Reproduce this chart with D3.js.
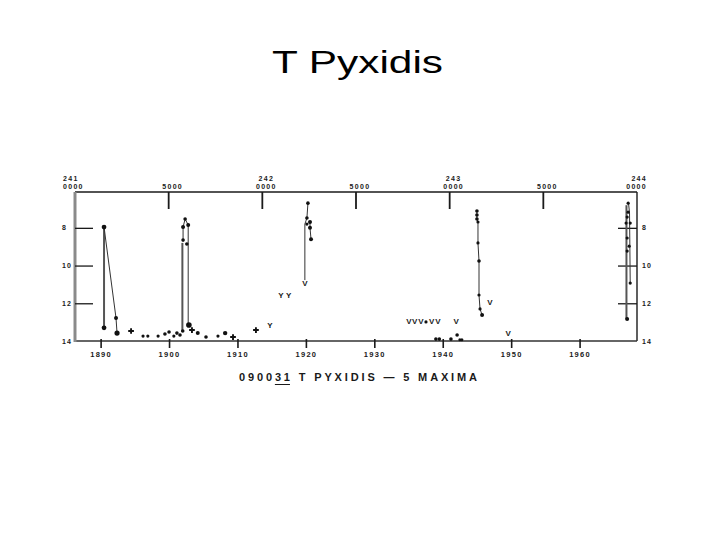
<!DOCTYPE html>
<html lang="en">
<head>
<meta charset="UTF-8">
<title>T Pyxidis</title>
<script src="https://cdn.jsdelivr.net/npm/d3@7/dist/d3.min.js"></script>
<style>
  body { margin: 0; background: #fff; }
  text { font-family: "Liberation Sans", Arial, sans-serif; }
</style>
</head>
<body>
<script>
// --- data (year, magnitude) ---
const yearTicks = [1890, 1900, 1910, 1920, 1930, 1940, 1950, 1960];
const magTicks = [8, 10, 12, 14];
const jdTicks = [2410000, 2415000, 2420000, 2425000, 2430000, 2435000, 2440000];
const jdTop = ["241", "", "242", "", "243", "", "244"];
const jdBottom = ["0000", "5000", "0000", "5000", "0000", "5000", "0000"];

// observed points
const dotYears = [1890.5, 1890.5, 1892.25, 1892.4,
  1896.2, 1896.9, 1898.4, 1899.4, 1900.0, 1900.7, 1901.15, 1901.6, 1902.0,
  1902.05, 1902.35, 1902.8, 1902.05, 1902.6, 1902.9, 1904.2, 1905.4, 1907.15, 1908.2,
  1920.3, 1920.15, 1920.6, 1920.6, 1920.75, 1920.15,
  1937.55, 1939.0, 1939.5, 1941.2, 1942.1, 1942.5, 1942.8,
  1945.0, 1945.0, 1945.0, 1945.15, 1945.15, 1945.3, 1945.3, 1945.45, 1945.75,
  1967.1, 1967.1, 1966.95, 1966.8, 1967.4, 1966.95, 1967.25, 1966.95, 1967.4, 1966.95];
const dotMags = [7.96, 13.3, 12.78, 13.58,
  13.74, 13.74, 13.74, 13.63, 13.52, 13.74, 13.58, 13.68, 13.47,
  7.96, 7.53, 7.85, 8.65, 8.86, 13.15, 13.58, 13.79, 13.74, 13.58,
  6.69, 7.48, 7.69, 8.0, 8.6, 7.8,
  12.99, 13.9, 13.9, 13.9, 13.68, 13.94, 13.94,
  7.11, 7.32, 7.53, 7.69, 8.8, 9.76, 11.56, 12.3, 12.62,
  6.69, 7.17, 7.43, 7.75, 7.75, 8.54, 8.97, 9.23, 10.93, 12.84];
const dotSizes = [2.4, 2.4, 2, 2.6,
  1.6, 1.6, 1.6, 1.8, 1.8, 1.6, 1.8, 1.8, 1.8,
  2, 1.8, 2, 1.8, 1.8, 2.8, 2, 1.8, 1.6, 2.2,
  1.8, 1.8, 2, 2, 2, 1.6,
  1.6, 1.8, 1.8, 1.8, 1.8, 1.5, 1.5,
  1.8, 1.8, 1.8, 1.6, 1.6, 1.8, 1.6, 1.6, 2,
  1.6, 1.6, 1.6, 1.6, 1.6, 1.6, 1.6, 1.6, 1.6, 2];

// "+" marks
const plusYears = [1894.45, 1903.35, 1909.35, 1912.7];
const plusMags = [13.47, 13.42, 13.79, 13.42];

// fainter-than limits
const limitYears = [1914.75, 1916.35, 1917.5, 1919.85, 1935.05, 1935.9, 1936.8, 1938.4, 1939.3, 1941.95, 1946.9, 1949.55];
const limitMags = [13.15, 11.56, 11.56, 10.93, 12.94, 12.94, 12.94, 12.94, 12.94, 12.94, 11.93, 13.58];
const limitGlyph = ["Y", "Y", "Y", "V", "V", "V", "V", "V", "V", "V", "V", "V"];

// connecting lines, one per outburst (thick = vertical rise)
const rise1890 = [[1890.5, 13.3], [1890.5, 7.96]];
const fall1890 = [[1890.5, 7.96], [1892.25, 12.78], [1892.4, 13.58]];
const rise1902 = [[1901.95, 13.5], [1901.95, 8.8]];
const fall1902 = [[1902.8, 7.85], [1902.8, 13.15]];
const peak1902 = [[1902.05, 8.65], [1902.05, 7.96], [1902.35, 7.53], [1902.8, 7.85]];
const rise1920 = [[1919.85, 10.77], [1919.85, 7.8], [1920.15, 7.48], [1920.3, 6.69]];
const fall1920 = [[1920.6, 7.69], [1920.6, 8.0], [1920.75, 8.6]];
const curve1944 = [[1945.0, 7.11], [1945.0, 7.53], [1945.15, 7.69], [1945.15, 8.8], [1945.3, 9.76], [1945.3, 11.56], [1945.45, 12.3], [1945.75, 12.62]];
const rise1966 = [[1966.85, 6.8], [1966.85, 12.84]];
const fall1966 = [[1967.15, 6.69], [1967.3, 7.2], [1967.4, 10.93]];

const W = 720, H = 540;
const jdToYear = jd => 1900 + (jd - 2415020) / 365.25;

const svg = d3.select("body").append("svg")
  .attr("width", W).attr("height", H);

svg.append("rect").attr("width", W).attr("height", H).attr("fill", "#fff");

svg.append("text")
  .attr("x", 272).attr("y", 73)
  .attr("font-size", 31)
  .attr("textLength", 171).attr("lengthAdjust", "spacingAndGlyphs")
  .attr("fill", "#000")
  .text("T Pyxidis");

const pLeft = 75, pRight = 637, pTop = 192, pBottom = 341;
const x = d3.scaleLinear().domain([jdToYear(2410000), jdToYear(2440000)]).range([pLeft, pRight]);
const y = d3.scaleLinear().domain([6.1, 14]).range([pTop, pBottom]);

const ink = "#1a1a1a";
const g = svg.append("g");

// frame
g.append("line").attr("x1", pLeft).attr("x2", pRight).attr("y1", pTop).attr("y2", pTop)
  .attr("stroke", ink).attr("stroke-width", 1.6);
g.append("line").attr("x1", pRight).attr("x2", pRight).attr("y1", pTop).attr("y2", pBottom)
  .attr("stroke", ink).attr("stroke-width", 1.4);
g.append("line").attr("x1", pLeft).attr("x2", pRight).attr("y1", pBottom).attr("y2", pBottom)
  .attr("stroke", "#333").attr("stroke-width", 1.6);
g.append("line").attr("x1", pLeft).attr("x2", pLeft).attr("y1", pTop).attr("y2", pBottom + 1)
  .attr("stroke", "#8a8a8a").attr("stroke-width", 3);

// top JD axis
const jdG = g.append("g");
jdTicks.forEach((jd, i) => {
  const px = x(jdToYear(jd));
  if (i > 0 && i < jdTicks.length - 1) {
    jdG.append("line").attr("x1", px).attr("x2", px).attr("y1", pTop).attr("y2", pTop + 17)
      .attr("stroke", ink).attr("stroke-width", 1.8);
  }
  const anchor = i === 0 ? "start" : (i === jdTicks.length - 1 ? "end" : "middle");
  const tx = i === 0 ? px - 12 : (i === jdTicks.length - 1 ? px + 10 : px + 4);
  if (jdTop[i]) {
    jdG.append("text").attr("x", tx).attr("y", 181)
      .attr("text-anchor", anchor).attr("font-size", 7).attr("font-weight", "bold")
      .attr("letter-spacing", 1.3).attr("fill", ink).text(jdTop[i]);
  }
  jdG.append("text").attr("x", tx).attr("y", 189)
    .attr("text-anchor", anchor).attr("font-size", 7).attr("font-weight", "bold")
    .attr("letter-spacing", 1.3).attr("fill", ink).text(jdBottom[i]);
});

// bottom year axis
const xAxis = d3.axisBottom(x).tickValues(yearTicks).tickSize(7).tickPadding(4).tickFormat(d3.format("d"));
const xa = g.append("g").attr("transform", `translate(0,${pBottom})`).call(xAxis);
xa.select(".domain").remove();
xa.selectAll(".tick line").attr("stroke", ink).attr("stroke-width", 1.6).attr("y1", -2);
xa.selectAll(".tick text").attr("font-size", 7.5).attr("font-weight", "bold")
  .attr("letter-spacing", 1.3).attr("fill", ink)
  .attr("font-family", "'Liberation Sans', Arial, sans-serif");

// magnitude ticks left and right (drawn inward)
const yl = g.append("g").attr("transform", `translate(${pLeft},0)`)
  .call(d3.axisRight(y).tickValues(magTicks).tickSize(18).tickFormat(""));
yl.select(".domain").remove();
yl.selectAll(".tick line").attr("stroke", ink).attr("stroke-width", 1.3)
  .filter(d => d === 14).remove();
const yr = g.append("g").attr("transform", `translate(${pRight},0)`)
  .call(d3.axisLeft(y).tickValues(magTicks).tickSize(19).tickFormat(""));
yr.select(".domain").remove();
yr.selectAll(".tick line").attr("stroke", ink).attr("stroke-width", 1.3)
  .filter(d => d === 14).remove();

magTicks.forEach(m => {
  g.append("text").attr("x", 62).attr("y", y(m) + 2.5)
    .attr("font-size", 7).attr("font-weight", "bold").attr("letter-spacing", 1.2)
    .attr("fill", ink).text(m);
  g.append("text").attr("x", 642).attr("y", y(m) + 2.5)
    .attr("font-size", 7).attr("font-weight", "bold").attr("letter-spacing", 1.2)
    .attr("fill", ink).text(m);
});

// connecting lines
const line = d3.line().x(d => x(d[0])).y(d => y(d[1]));
const thick = [rise1890, rise1902, rise1966];
const thin = [fall1890, fall1902, peak1902, rise1920, fall1920, curve1944, fall1966];
g.append("g").selectAll("path").data(thick).join("path")
  .attr("d", line).attr("fill", "none").attr("stroke", "#555").attr("stroke-width", 2);
g.append("g").selectAll("path").data(thin).join("path")
  .attr("d", line).attr("fill", "none").attr("stroke", "#333").attr("stroke-width", 1);

// points
g.append("g").selectAll("circle").data(dotYears).join("circle")
  .attr("cx", d => x(d))
  .attr("cy", (d, i) => y(dotMags[i]))
  .attr("r", (d, i) => dotSizes[i])
  .attr("fill", "#111");

const plus = d3.symbol().type(d3.symbolCross).size(18);
g.append("g").selectAll("path").data(plusYears).join("path")
  .attr("transform", (d, i) => `translate(${x(d)},${y(plusMags[i])})`)
  .attr("d", plus).attr("fill", "#111");

g.append("g").selectAll("text").data(limitYears).join("text")
  .attr("x", d => x(d))
  .attr("y", (d, i) => y(limitMags[i]) + 3)
  .attr("text-anchor", "middle")
  .attr("font-size", 8).attr("font-weight", "bold")
  .attr("fill", ink)
  .text((d, i) => limitGlyph[i]);

// caption
const cap = svg.append("text")
  .attr("x", 239).attr("y", 381)
  .attr("font-size", 11).attr("font-weight", "bold")
  .attr("textLength", 238).attr("lengthAdjust", "spacing")
  .attr("fill", ink);
cap.append("tspan").text("0900");
const und = cap.append("tspan").text("31");
cap.append("tspan").text(" T PYXIDIS — 5 MAXIMA");
const bb = und.node().getBBox();
svg.append("line")
  .attr("x1", bb.x).attr("x2", bb.x + bb.width)
  .attr("y1", 384.5).attr("y2", 384.5)
  .attr("stroke", ink).attr("stroke-width", 1);
</script>
</body>
</html>
